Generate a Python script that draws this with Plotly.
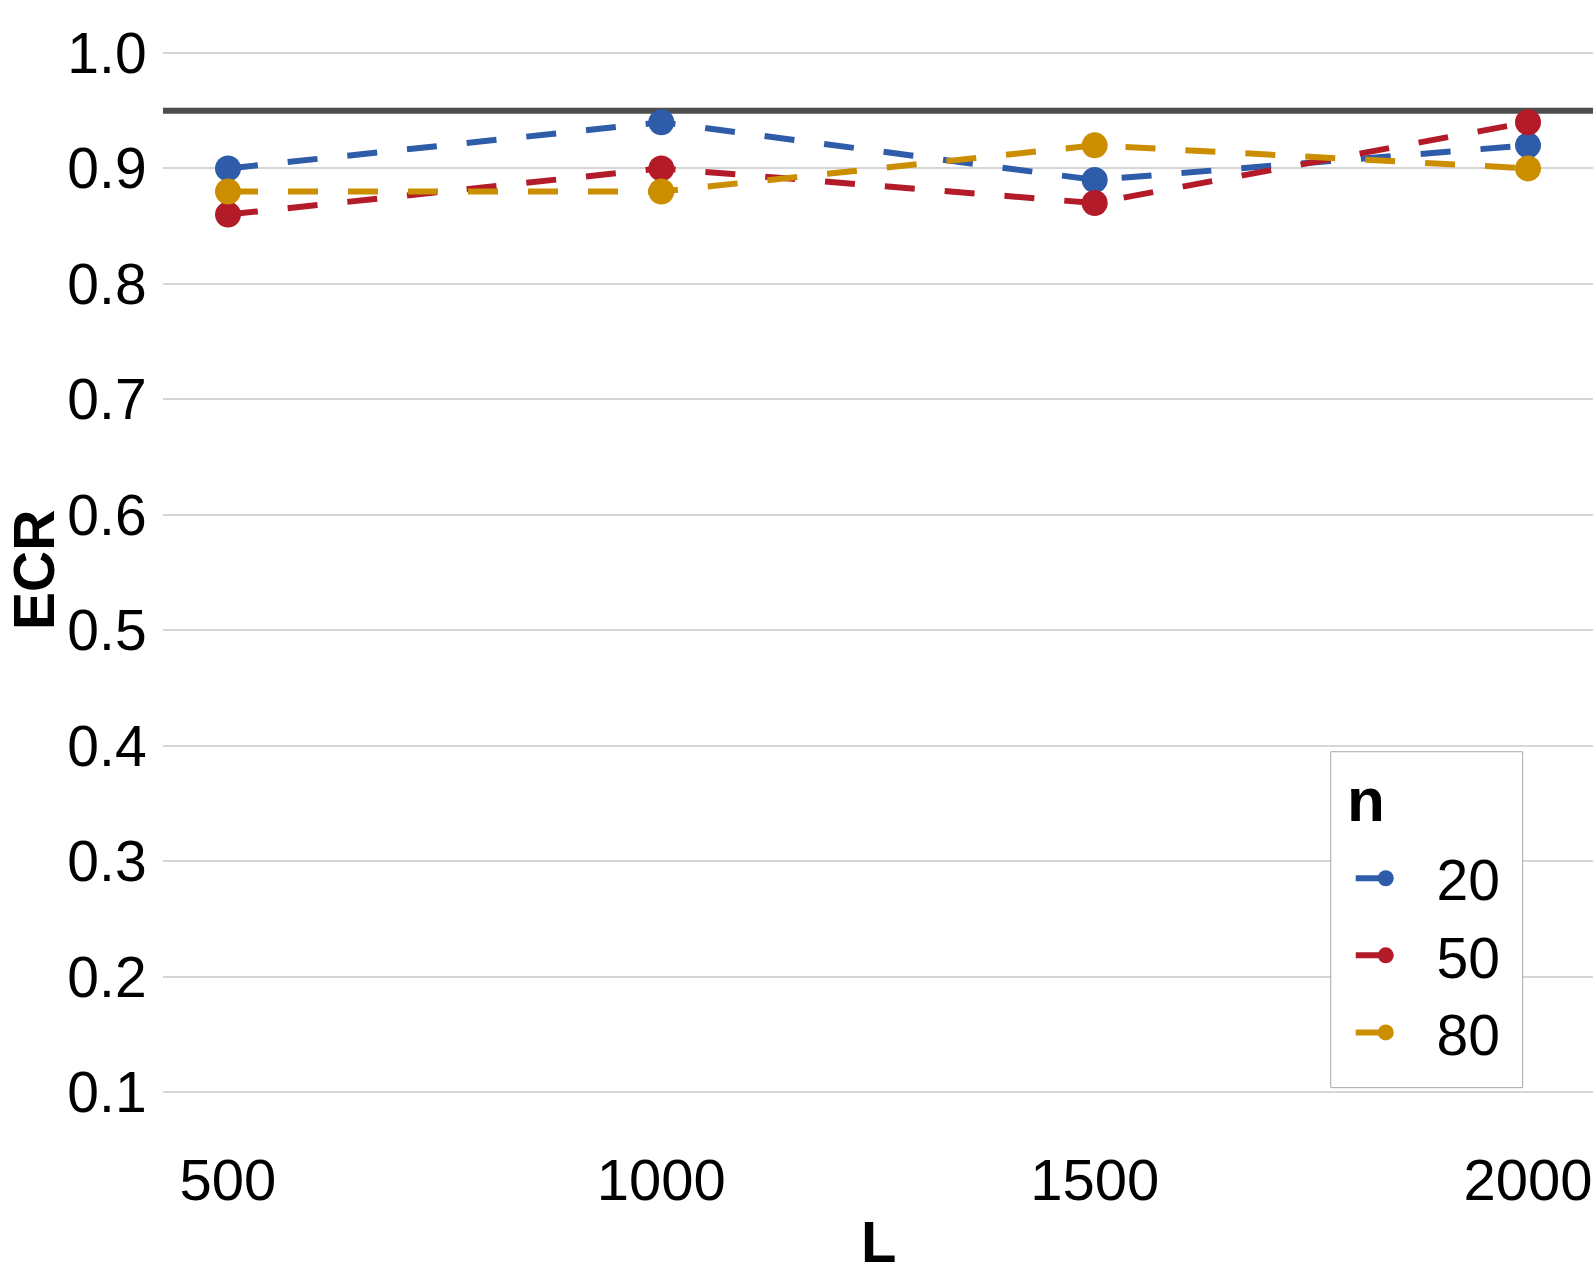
import plotly.graph_objects as go

L_values = [500, 1000, 1500, 2000]
n_labels = ["20", "50", "80"]
ecr_n20 = [0.90, 0.94, 0.89, 0.92]
ecr_n50 = [0.86, 0.90, 0.87, 0.94]
ecr_n80 = [0.88, 0.88, 0.92, 0.90]
target_level = 0.95
y_ticks = [0.1, 0.2, 0.3, 0.4, 0.5, 0.6, 0.7, 0.8, 0.9, 1.0]
x_ticks = [500, 1000, 1500, 2000]

colors = ["#2E5CA9", "#B31B28", "#CB8E00"]
series = [ecr_n20, ecr_n50, ecr_n80]

FONT = "Liberation Sans, Arial, sans-serif"

fig = go.Figure()

for lab, vals, col in zip(n_labels, series, colors):
    fig.add_trace(go.Scatter(
        x=L_values, y=vals, name="&nbsp;" + lab, mode="lines+markers",
        line=dict(color=col, width=6, dash="30px,30px"),
        marker=dict(color=col, size=26),
    ))

fig.add_hline(y=target_level, line=dict(color="#4D4D4D", width=6), layer="below")

# legend frame and title
fig.add_shape(type="rect", xref="paper", yref="paper",
              x0=0.8166, x1=0.9508, y0=0.0493, y1=0.3432,
              line=dict(color="#A8A8A8", width=1), fillcolor="white", layer="above")
fig.add_annotation(text="<b>n</b>", xref="paper", yref="paper", x=0.8410, y=0.3018,
                   xanchor="center", yanchor="middle", showarrow=False,
                   font=dict(size=62, family=FONT, color="black"))

fig.add_annotation(text="<b>L</b>", xref="paper", yref="paper", x=0.5003, y=-0.0857,
                   xanchor="center", yanchor="middle", showarrow=False,
                   font=dict(size=58, family=FONT, color="black"))
fig.add_annotation(text="<b>ECR</b>", xref="paper", yref="paper", x=-0.1140, y=0.5022,
                   xanchor="left", yanchor="middle", showarrow=False, textangle=-90,
                   font=dict(size=57, family=FONT, color="black"))

fig.update_layout(
    width=1596, height=1276,
    margin=dict(l=163, r=3, t=1, b=132),
    paper_bgcolor="white", plot_bgcolor="white",
    font=dict(family=FONT, size=57, color="black"),
    showlegend=True,
    legend=dict(
        x=0.8166, y=0.0589, xanchor="left", yanchor="bottom",
        borderwidth=0, bgcolor="rgba(0,0,0,0)",
        font=dict(size=57), itemwidth=60, indentation=20, tracegroupgap=0,
    ),
    xaxis=dict(
        range=[425, 2075], tickvals=x_ticks, ticktext=[str(v) for v in x_ticks],
        showgrid=False, zeroline=False, showline=False, automargin=False,
        ticks="", ticklabelstandoff=-3,
        tickfont=dict(size=58, family=FONT),
    ),
    yaxis=dict(
        range=[0.055, 1.045], tickvals=y_ticks,
        ticktext=[f"{v:.1f}" for v in y_ticks],
        showgrid=True, gridcolor="#D6D6D6", gridwidth=2,
        zeroline=False, showline=False, automargin=False,
        ticks="outside", ticklen=4, tickcolor="rgba(0,0,0,0)",
        tickfont=dict(size=57, family=FONT),
    ),
)

fig.write_html("out.html", config={"displayModeBar": False},
               post_script="document.body.style.margin='0px';")
